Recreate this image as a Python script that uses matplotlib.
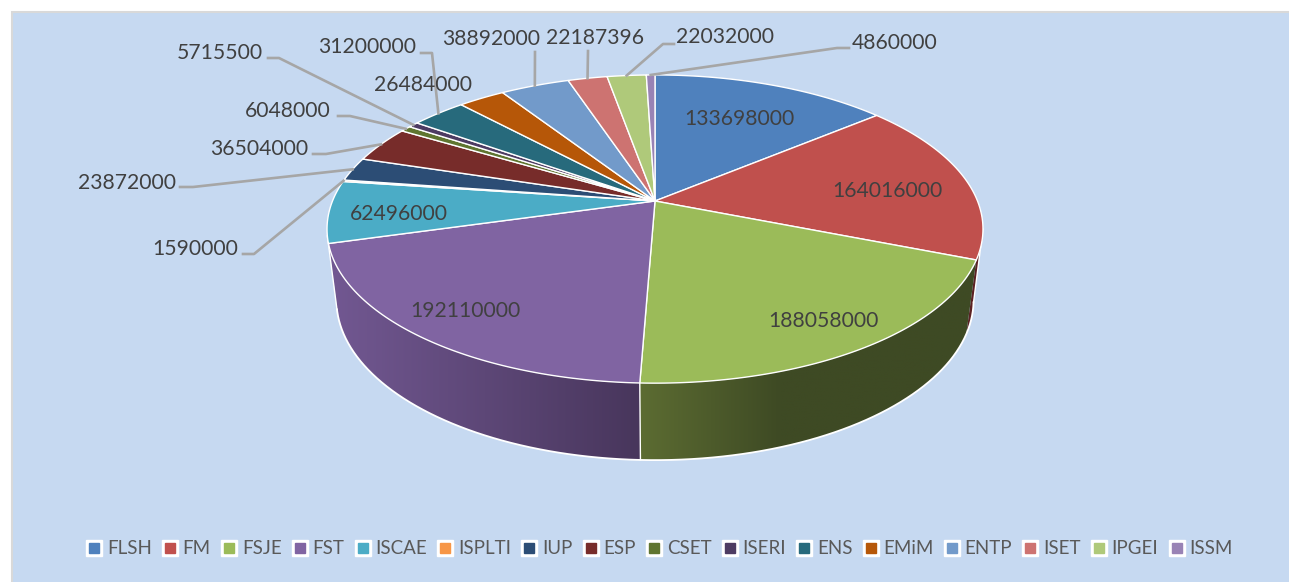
# -*- coding: utf-8 -*-
import numpy as np
import matplotlib
matplotlib.use("Agg")
import matplotlib.pyplot as plt
from matplotlib.lines import Line2D
from matplotlib.legend_handler import HandlerTuple
from matplotlib.patches import Rectangle, Polygon

plt.rcParams['font.family'] = ['Lato', 'DejaVu Sans']

names = ["FLSH", "FM", "FSJE", "FST", "ISCAE", "ISPLTI", "IUP", "ESP", "CSET",
         "ISERI", "ENS", "EMiM", "ENTP", "ISET", "IPGEI", "ISSM"]
values = [133698000, 164016000, 188058000, 192110000, 62496000, 1590000,
          23872000, 36504000, 6048000, 5715500, 31200000, 26484000, 38892000,
          22187396, 22032000, 4860000]
colors = ["#4F81BD", "#C0504D", "#9BBB59", "#8064A2", "#4BACC6", "#F79646",
          "#2C4D75", "#772C2A", "#5F7530", "#4D3B62", "#276A7C", "#B65708",
          "#729ACA", "#CD7371", "#AFC97A", "#9983B5"]

# label centre in pixels, for the labels sitting on the slices
inner_labels = {0: (739, 119), 1: (887, 191), 2: (823, 321), 3: (465, 311), 4: (399, 214)}
# label centre, then the elbow of the leader line
outer_labels = {5: ((195, 249), (243, 254), (254, 254)),
                6: ((127, 183), (180, 187), (193, 187)),
                7: ((259, 149), (313, 154), (326, 154)),
                8: ((288, 111), (338, 116), (350, 116)),
                9: ((220, 53), (268, 58), (279, 58)),
                10: ((367, 47), (421, 53), (432, 53)),
                11: ((423, 85), None, None),
                12: ((491, 39), (535, 52), (535, 52)),
                13: ((595, 38), (588, 51), (588, 51)),
                14: ((725, 37), (674, 44), (663, 44)),
                15: ((895, 43), (849, 48), (837, 48))}

BG = "#C6D9F1"
LINE = "#A6A6A6"
CX = 655.0


def project(theta, rx, ry, k, cy):
	""" Perspective view of a point of the pie rim, theta clockwise from top """
	x, y = np.sin(theta), np.cos(theta)
	d = 1 + k * y
	return CX + rx * x / d, cy - ry * y / d


def top(theta):
	return project(theta, 322.5, 149.0, 0.182, 201.0)


def bottom(theta):
	return project(theta, 314.0, 155.5, 0.169, 273.0)


def mix(a, b, t):
	t = np.clip(t, 0, 1)[:, None]
	return (np.array(a) + (np.array(b) - np.array(a)) * t) / 255.0


def wallColors(i, x):
	if i == 3:
		return mix((114, 88, 146), (72, 54, 92), (x - 330) / 310.0)
	if i == 2:
		return mix((92, 108, 50), (62, 74, 36), (x - 640) / 140.0)
	if i == 1:
		return mix((92, 34, 36), (92, 34, 36), x * 0)
	return mix((60, 130, 150), (60, 130, 150), x * 0)


fig = plt.figure(figsize=(12.89, 5.82), dpi=100, facecolor="white")
ax = fig.add_axes([0, 0, 1, 1])
ax.add_patch(Rectangle((12, 12), 1300, 600, facecolor=BG, edgecolor="#D9D9D9", linewidth=1.5))

edges = np.cumsum([0] + values) / float(sum(values)) * 2 * np.pi
vis_a, vis_b = np.radians(100.5), np.radians(257.0)

# side wall, a horizontal gradient clipped to the wall outline
for i in range(len(values)):
	a, b = max(edges[i], vis_a), min(edges[i + 1], vis_b)
	if a >= b:
		continue
	t = np.linspace(a, b, 100)
	xs = np.r_[top(t)[0], bottom(t[::-1])[0]]
	ys = np.r_[top(t)[1], bottom(t[::-1])[1]]
	gx = np.linspace(xs.min(), xs.max(), 200)
	shape = Polygon(np.c_[xs, ys], closed=True, transform=ax.transData)
	im = ax.imshow(wallColors(i, gx)[None, :, :], extent=(gx[0], gx[-1], ys.max(), ys.min()),
		aspect="auto", interpolation="bilinear", zorder=2)
	im.set_clip_path(shape)

# white line round the wall and between the walls
rim = np.linspace(vis_a, vis_b, 200)
ax.plot(*bottom(rim), color="white", lw=1.3, zorder=3)
for t in [vis_a, vis_b, edges[3]]:
	ax.plot([top(t)[0], bottom(t)[0]], [top(t)[1], bottom(t)[1]], color="white", lw=1.0, zorder=3)

# top face
for i in range(len(values)):
	t = np.linspace(edges[i], edges[i + 1], 80)
	x, y = top(t)
	ax.fill(np.r_[CX, x], np.r_[201.0, y], facecolor=colors[i], edgecolor="white",
		linewidth=1.0, joinstyle="round", zorder=4)

# leader lines go to the middle of the slice rim
for i, (pos, p1, p2) in outer_labels.items():
	if p1 is None:
		continue
	mid = (edges[i] + edges[i + 1]) / 2
	ex, ey = top(mid)
	ax.plot([p1[0], p2[0], ex], [p1[1], p2[1], ey], color=LINE, lw=1.9, zorder=5,
		solid_joinstyle="round")

for i, pos in inner_labels.items():
	ax.text(pos[0], pos[1], str(values[i]), ha="center", va="center", fontsize=15.2,
		color="#404040", zorder=6)
for i, (pos, p1, p2) in outer_labels.items():
	ax.text(pos[0], pos[1], str(values[i]), ha="center", va="center", fontsize=15.2,
		color="#404040", zorder=6)

handles = []
for c in colors:
	handles.append((Line2D([], [], ls="none", marker="s", ms=12, mfc="white", mec="white"),
		Line2D([], [], ls="none", marker="s", ms=7, mfc=c, mec=c)))
ax.set_xlim(0, 1289)
ax.set_ylim(582, 0)
ax.axis("off")
leg = ax.legend(handles, names, ncol=len(names), loc="center", bbox_to_anchor=(659.0 / 1289, 1 - 549.0 / 582),
	bbox_transform=ax.transAxes, frameon=False, fontsize=13.5, labelcolor="#595959",
	handler_map={tuple: HandlerTuple(ndivide=1, pad=0)}, handlelength=0.95,
	handletextpad=0.2, columnspacing=0.5, borderpad=0)

fig.savefig("out.png", dpi=100, facecolor="white")
